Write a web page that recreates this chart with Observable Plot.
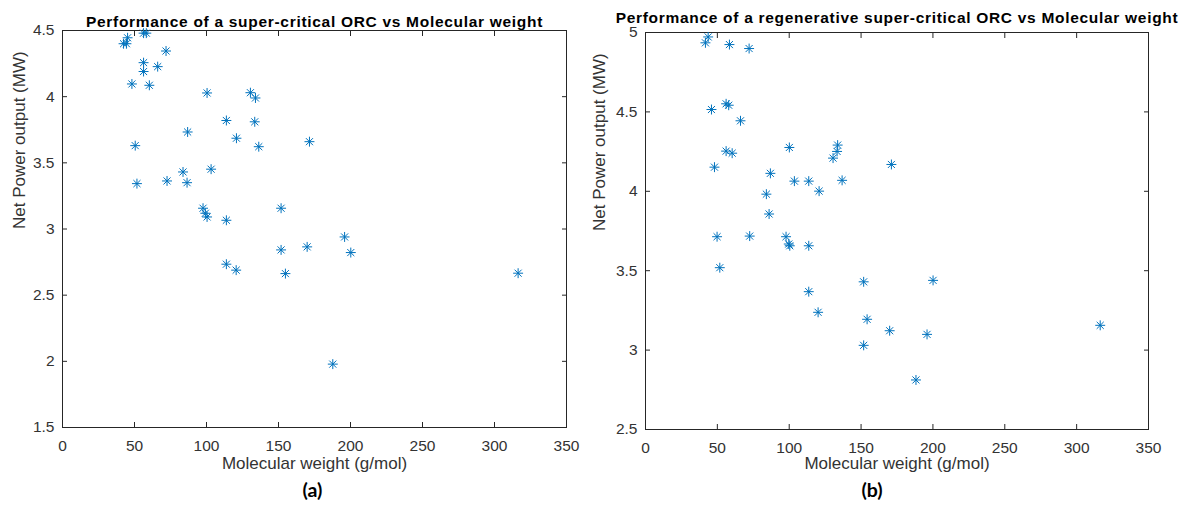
<!DOCTYPE html>
<html>
<head>
<meta charset="utf-8">
<script src="https://cdn.jsdelivr.net/npm/d3@7"></script>
<script src="https://cdn.jsdelivr.net/npm/@observablehq/plot@0.6"></script>
<style>
  html, body { margin: 0; padding: 0; background: #fff; }
  #wrap { position: relative; width: 1187px; height: 508px; overflow: hidden; background: #fff; }
  #wrap > svg { position: absolute; top: 0; }
  g.ttl text { letter-spacing: 0.7px; }
</style>
</head>
<body>
<div id="wrap"></div>
<script>
// ---------- data ----------
const titleA = "Performance of a super-critical ORC vs Molecular weight";
const titleB = "Performance of a regenerative super-critical ORC vs Molecular weight";
const xLabel = "Molecular weight (g/mol)";
const yLabel = "Net Power output (MW)";
const captionA = "(a)";
const captionB = "(b)";

const xTicks = [0, 50, 100, 150, 200, 250, 300, 350];
const yTicksA = [1.5, 2, 2.5, 3, 3.5, 4, 4.5];
const yTicksB = [2.5, 3, 3.5, 4, 4.5, 5];

// (a) super-critical ORC
const mwA = [42.4, 44.4, 45.2, 56.3, 58.2, 71.9, 56.3, 56.3, 66.1, 48.2, 60.3, 100.4, 130.5, 134.0, 113.8, 133.5,
  86.9, 120.8, 136.3, 50.5, 171.5, 83.7, 103.2, 51.7, 72.6, 86.5, 97.6, 99.2, 100.4, 113.8,
  113.8, 120.6, 151.8, 151.8, 154.8, 169.9, 195.9, 200.2, 316.4, 187.7];
const powerA = [4.40, 4.40, 4.445, 4.48, 4.48, 4.345, 4.257, 4.19, 4.227, 4.096, 4.086, 4.028, 4.03, 3.99, 3.82, 3.81,
  3.733, 3.686, 3.622, 3.63, 3.66, 3.431, 3.452, 3.343, 3.363, 3.35, 3.157, 3.119, 3.091, 3.066,
  2.734, 2.689, 3.157, 2.842, 2.663, 2.865, 2.94, 2.822, 2.666, 1.979];

// (b) regenerative super-critical ORC
const mwB = [41.7, 43.6, 58.4, 72.1, 45.9, 56.1, 57.9, 66.1, 56.1, 60.3, 48.0, 100.1, 86.9, 84.1, 86.0, 103.6,
  113.6, 120.8, 130.5, 133.3, 133.7, 136.8, 171.1, 49.8, 51.7, 72.5, 97.8, 99.7, 100.4, 113.6,
  113.6, 120.1, 151.8, 154.2, 151.8, 169.9, 195.9, 200.1, 188.2, 316.4];
const powerB = [4.935, 4.972, 4.924, 4.899, 4.515, 4.551, 4.542, 4.444, 4.253, 4.24, 4.152, 4.276, 4.113, 3.982, 3.857, 4.064,
  4.064, 4.001, 4.209, 4.251, 4.291, 4.069, 4.169, 3.714, 3.519, 3.718, 3.714, 3.668, 3.657, 3.657,
  3.368, 3.238, 3.43, 3.194, 3.03, 3.122, 3.099, 3.439, 2.812, 3.156];

// ---------- drawing ----------
const blue = "#0072BD";
const ink = "#262626";
const font = "'Liberation Sans', Arial, Helvetica, sans-serif";

function panel({mw, power, yTicks, title, caption, width, margins, titleDy, labelDy, capDy, capDx, yLabDx}) {
  const data = mw.map((m, i) => ({mw: m, p: power[i]}));
  const fmt = d => String(d);
  return Plot.plot({
    width, height: 508,
    marginLeft: margins[0], marginRight: margins[1], marginTop: margins[2], marginBottom: margins[3],
    style: {fontFamily: font, fontSize: "15px", color: ink, background: "transparent", overflow: "visible"},
    x: {domain: [xTicks[0], xTicks[xTicks.length - 1]]},
    y: {domain: [yTicks[0], yTicks[yTicks.length - 1]]},
    marks: [
      Plot.frame({stroke: ink, strokeWidth: 1}),
      Plot.axisX({anchor: "bottom", ticks: xTicks, tickFormat: fmt, tickSize: -5, tickPadding: 17, label: null, fill: "#333", fontSize: 15.5}),
      Plot.axisX({anchor: "top", ticks: xTicks, tickFormat: () => "", tickSize: -5, label: null}),
      Plot.axisY({anchor: "left", ticks: yTicks, tickFormat: fmt, tickSize: -5, tickPadding: 13, label: null, fill: "#333", fontSize: 15.5}),
      Plot.axisY({anchor: "right", ticks: yTicks, tickFormat: () => "", tickSize: -5, label: null}),
      Plot.dot(data, {x: "mw", y: "p", symbol: "plus", r: 3.3, stroke: blue, strokeWidth: 1}),
      Plot.dot(data, {x: "mw", y: "p", symbol: "times", r: 3.3, stroke: blue, strokeWidth: 1}),
      Plot.text([title], {text: d => d, frameAnchor: "top", dy: titleDy, fontWeight: "bold", fontSize: 15.5, fill: "#000", className: "ttl"}),
      Plot.text([xLabel], {text: d => d, frameAnchor: "bottom", dy: labelDy, fontSize: 17, fill: "#333"}),
      Plot.text([yLabel], {text: d => d, frameAnchor: "left", dx: yLabDx, rotate: -90, fontSize: 17, fill: "#333"}),
      Plot.text([caption], {text: d => d, frameAnchor: "bottom", dy: capDy, dx: capDx, fontWeight: "bold", fontSize: 19.5, fontFamily: "Lato, 'Open Sans', sans-serif", fill: "#000"})
    ]
  });
}

const wrap = document.getElementById("wrap");
const svgA = panel({mw: mwA, power: powerA, yTicks: yTicksA, title: titleA, caption: captionA,
  width: 590, margins: [62, 24, 30, 81], titleDy: -15, labelDy: 41, capDy: 69, capDx: -2, yLabDx: -43});
svgA.style.left = "0px";
wrap.appendChild(svgA);
const svgB = panel({mw: mwB, power: powerB, yTicks: yTicksB, title: titleB, caption: captionB,
  width: 597, margins: [55, 39, 32, 79], titleDy: -21, labelDy: 39, capDy: 67, capDx: -25, yLabDx: -46});
svgB.style.left = "590px";
wrap.appendChild(svgB);
</script>
</body>
</html>
